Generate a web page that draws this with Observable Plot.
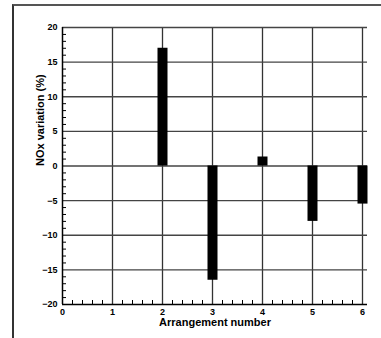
<!DOCTYPE html>
<html>
<head>
<meta charset="utf-8">
<script src="https://cdn.jsdelivr.net/npm/d3@7"></script>
<script src="https://cdn.jsdelivr.net/npm/@observablehq/plot@0.6"></script>
<style>
  html, body { margin: 0; padding: 0; background: #fff; }
  #wrap { position: relative; width: 381px; height: 338px; overflow: hidden; }
  #frame { position: absolute; left: 12px; top: 4px; width: 369px; height: 334px;
           border-left: 2px solid #333; border-top: 2px solid #555; box-sizing: border-box; pointer-events: none; }
  svg { display: block; }
</style>
</head>
<body>
<div id="wrap"><div id="frame"></div></div>
<script>
const arrangements = [2, 3, 4, 5, 6];
const noxVariation = [17, -16.5, 1.3, -8, -5.5];
const xTicks = [0, 1, 2, 3, 4, 5, 6];
const yTicks = [-20, -15, -10, -5, 0, 5, 10, 15, 20];
const xMinor = d3.range(0, 30).map(i => i / 5).filter(v => !Number.isInteger(v) && v <= 6);
const yMinor = d3.range(-20, 21).filter(v => v % 5 !== 0);

const data = arrangements.map((a, i) => ({x: a, y: noxVariation[i]}));
const font = "'Liberation Sans', Arial, Helvetica, sans-serif";

const chart = Plot.plot({
  width: 381,
  height: 338,
  marginLeft: 62,
  marginRight: 14,
  marginTop: 27,
  marginBottom: 34,
  style: {fontFamily: font, background: "transparent"},
  x: {domain: [0, 6.1], axis: null},
  y: {domain: [-20, 20], axis: null},
  marks: [
    Plot.ruleX(xTicks.filter(v => v > 0), {stroke: "#333", strokeWidth: 1.3}),
    Plot.ruleY(yTicks.filter(v => v > -20), {stroke: "#444", strokeWidth: 1.3}),
    Plot.ruleX(data, {x: "x", y1: 0, y2: "y", stroke: "black", strokeWidth: 10}),
    Plot.axisY(yMinor, {anchor: "left", tickSize: -4, tickFormat: () => "", label: null, stroke: "black", strokeWidth: 1}),
    Plot.axisX(xMinor, {anchor: "bottom", tickSize: -4, tickFormat: () => "", label: null, stroke: "black", strokeWidth: 1}),
    Plot.axisY(yTicks, {anchor: "left", tickSize: 0, tickPadding: 5, label: null, fontSize: 9, fontWeight: "bold", fill: "black"}),
    Plot.axisX(xTicks, {anchor: "bottom", tickSize: 0, tickPadding: 4, label: null, fontSize: 9, fontWeight: "bold", fill: "black"}),
    Plot.ruleX([0], {stroke: "black", strokeWidth: 1.5}),
    Plot.ruleY([-20], {stroke: "black", strokeWidth: 1.5}),
    Plot.text(["Arrangement number"], {frameAnchor: "bottom", dy: 18, fontSize: 11, fontWeight: "bold", fill: "black", lineAnchor: "middle"}),
    Plot.text(["NOx variation (%)"], {frameAnchor: "left", dx: -22, rotate: -90, fontSize: 11, fontWeight: "bold", fill: "black", lineAnchor: "middle"})
  ]
});
document.getElementById("wrap").prepend(chart);
</script>
</body>
</html>
